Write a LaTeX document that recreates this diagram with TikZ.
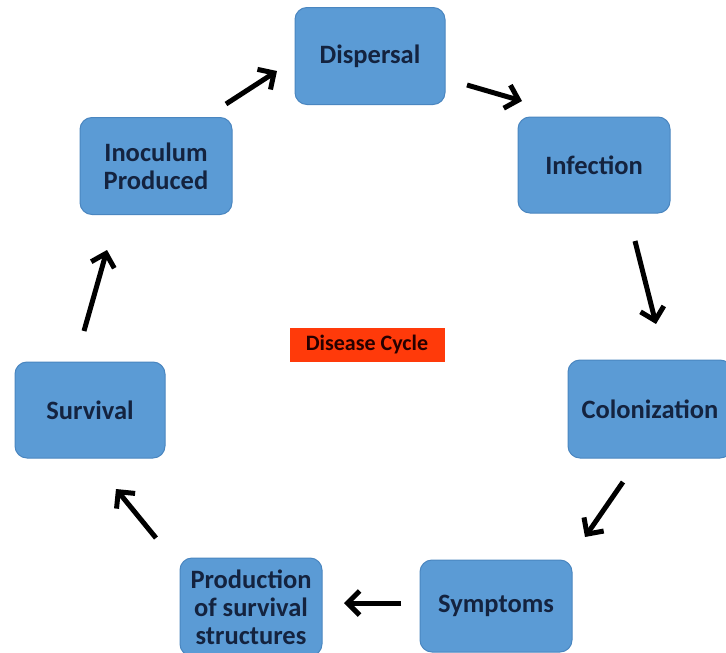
\documentclass[tikz,border=0pt]{standalone}
\usepackage{fontspec}
\setmainfont{Carlito}
\usetikzlibrary{arrows.meta}
\definecolor{boxfill}{HTML}{5B9BD5}
\definecolor{boxline}{HTML}{4A86C0}
\definecolor{boxtext}{HTML}{14233F}
\definecolor{redlabel}{HTML}{FF3A0A}
\tikzset{
  stage/.style={draw=boxline, line width=1pt, fill=boxfill, rounded corners=12pt,
    text=boxtext, font=\bfseries\fontsize{26.5}{28}\selectfont, align=center,
    inner sep=0pt},
  cyc/.style={line width=5pt, -{Straight Barb[length=12pt,width=24pt,line width=5pt]}, black},
}
\begin{document}
\begin{tikzpicture}[x=1pt,y=-1pt]
\useasboundingbox (0,0) rectangle (726,653);
\fill[white] (0,0) rectangle (726,653);
% boxes
\node[stage, minimum width=150pt, minimum height=97pt] (disp) at (370,56) {Dispersal};
\node[stage, minimum width=152pt, minimum height=96pt] (inf) at (594,165) {Infection};
\node[stage, minimum width=164pt, minimum height=98pt] (col) at (650,409) {Colonization};
\node[stage, minimum width=152pt, minimum height=92pt] (sym) at (496,606) {Symptoms};
\node[stage, minimum width=142pt, minimum height=98pt] (prod) at (251,607) {Production\\of survival\\structures};
\node[stage, minimum width=150pt, minimum height=96pt] (surv) at (90,410) {Survival};
\node[stage, minimum width=152pt, minimum height=97pt] (inoc) at (156,166) {Inoculum\\Produced};
% centre label
\node[fill=redlabel, minimum width=155pt, minimum height=34pt, inner sep=0pt,
  text=black!85!red, font=\bfseries\fontsize{22}{24}\selectfont] (lab) at (367,345) {Disease Cycle};
% arrow end points
\coordinate (a1s) at (226,104); \coordinate (a1e) at (277,71);
\coordinate (a2s) at (467,85);  \coordinate (a2e) at (522,101);
\coordinate (a3s) at (635,241); \coordinate (a3e) at (656,324);
\coordinate (a4s) at (623,482); \coordinate (a4e) at (585,537);
\coordinate (a5s) at (401,603); \coordinate (a5e) at (344,603);
\coordinate (a6s) at (156,538); \coordinate (a6e) at (116,489);
\coordinate (a7s) at (84,331);  \coordinate (a7e) at (107,250);
\draw[cyc] (a1s) -- (a1e);
\draw[cyc] (a2s) -- (a2e);
\draw[cyc] (a3s) -- (a3e);
\draw[cyc] (a4s) -- (a4e);
\draw[cyc] (a5s) -- (a5e);
\draw[cyc] (a6s) -- (a6e);
\draw[cyc] (a7s) -- (a7e);
\end{tikzpicture}
\end{document}
